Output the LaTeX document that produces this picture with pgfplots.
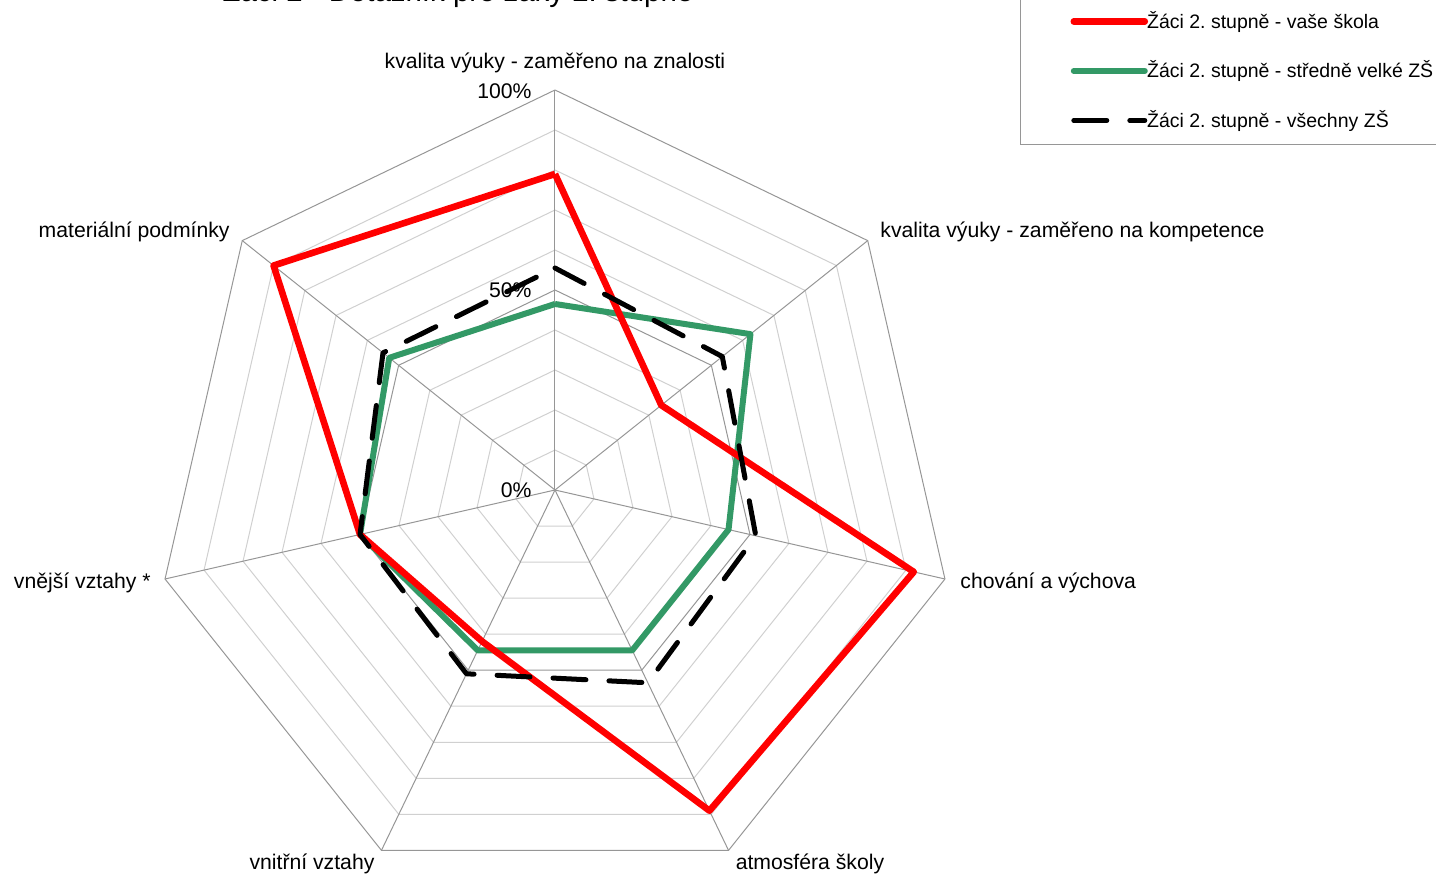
\documentclass[border=0pt]{standalone}
\usepackage{pgfplots}
\pgfplotsset{compat=1.18}
\usepgfplotslibrary{polar}
\usepackage{fontspec}
\setmainfont{Liberation Sans}
\frenchspacing

\definecolor{zsgreen}{RGB}{51,153,102}
\definecolor{gridmaj}{RGB}{150,150,150}
\definecolor{gridmin}{RGB}{208,208,208}

% angles of the seven spokes, clockwise from the top
% 90, 38.5714, -12.8571, -64.2857, -115.7143, -167.1429, 141.4286

\begin{document}
\begin{tikzpicture}
\useasboundingbox (-277.5pt,-193pt) rectangle (440.5pt,245pt);

\begin{polaraxis}[
  at={(0pt,0pt)}, anchor=center,
  scale only axis, width=400pt, height=400pt,
  xmin=0, xmax=360, ymin=0, ymax=100,
  hide axis, clip=false,
  legend cell align=left,
  legend image code/.code={\draw[#1] (0pt,0pt) -- (35.5pt,0pt);},
  legend style={
    at={(1.08125,0.93125)}, anchor=south west,
    draw=gridmaj, line width=0.5pt, fill=white,
    font=\fontsize{9.75}{11.7}\selectfont,
    inner xsep=25pt, inner ysep=6pt, row sep=12.75pt, column sep=-0.5pt,
    nodes={inner xsep=0pt, inner ysep=1pt},
  },
]
% minor rings
\pgfplotsinvokeforeach{10,20,30,40,60,70,80,90}{
  \addplot[forget plot, gridmin, line width=0.5pt] coordinates {
    (90,#1) (38.5714,#1) (-12.8571,#1) (-64.2857,#1)
    (-115.7143,#1) (-167.1429,#1) (141.4286,#1) (90,#1)};
}
% major rings
\pgfplotsinvokeforeach{50,100}{
  \addplot[forget plot, gridmaj, line width=0.5pt] coordinates {
    (90,#1) (38.5714,#1) (-12.8571,#1) (-64.2857,#1)
    (-115.7143,#1) (-167.1429,#1) (141.4286,#1) (90,#1)};
}
% spokes
\pgfplotsinvokeforeach{90,38.5714,-12.8571,-64.2857,-115.7143,-167.1429,141.4286}{
  \addplot[forget plot, gridmaj, line width=0.5pt] coordinates {(#1,0) (#1,100)};
}

\addlegendimage{red, line width=3.3pt, line cap=round}
\addlegendentry{Žáci 2. stupně - vaše škola}
\addlegendimage{zsgreen, line width=3pt, line cap=round}
\addlegendentry{Žáci 2. stupně - středně velké ZŠ}
\addlegendimage{black, line width=2.5pt, line cap=round, dash pattern=on 16.5pt off 11.5pt}
\addlegendentry{Žáci 2. stupně - všechny ZŠ}

% středně velké ZŠ
\addplot[forget plot, zsgreen, line width=3pt, line join=round] coordinates {
  (90,46.5) (38.5714,62.5) (-12.8571,44.5) (-64.2857,44.5)
  (-115.7143,44.5) (-167.1429,50) (141.4286,53) (90,46.5)};
% vaše škola
\addplot[forget plot, red, line width=3.3pt, line join=round] coordinates {
  (90,79) (38.5714,34) (-12.8571,92) (-64.2857,89)
  (-115.7143,42) (-167.1429,50) (141.4286,90) (90,79)};
% všechny ZŠ
\addplot[forget plot, black, line width=2.5pt, line cap=round, line join=round,
  dash pattern=on 16.5pt off 11.5pt] coordinates {
  (90,55.5) (38.5714,53.5) (-12.8571,51.5) (-64.2857,53.5)
  (-115.7143,51) (-167.1429,50) (141.4286,55) (90,55.5)};
\end{polaraxis}

\begin{scope}[x=0.5pt, y=-0.5pt, shift={(-277.5pt,245pt)},
  every node/.style={inner sep=0pt, font=\fontsize{10.6}{12.7}\selectfont}]
  \node[anchor=base, font=\fontsize{14.7}{17}\selectfont] at (458,2) {Žáci 2 - Dotazník pro žáky 2. stupně};
  \node[anchor=base] at (555,69) {kvalita výuky - zaměřeno na znalosti};
  \node[anchor=base west] at (880,238) {kvalita výuky - zaměřeno na kompetence};
  \node[anchor=base west] at (960,589) {chování a výchova};
  \node[anchor=base] at (810,870) {atmosféra školy};
  \node[anchor=base] at (312,870) {vnitřní vztahy};
  \node[anchor=base east] at (151,589) {vnější vztahy *};
  \node[anchor=base east] at (230,238) {materiální podmínky};
  \node[anchor=east] at (532,91) {100\%};
  \node[anchor=east] at (532,290) {50\%};
  \node[anchor=east] at (532,490) {0\%};
\end{scope}
\end{tikzpicture}
\end{document}
